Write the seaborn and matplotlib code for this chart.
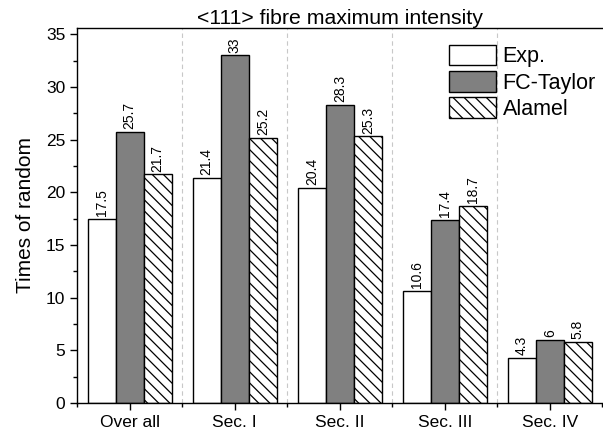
import matplotlib
matplotlib.use("Agg")
import matplotlib.pyplot as plt
from matplotlib.ticker import MultipleLocator, FixedLocator
import seaborn as sns
import pandas as pd

# Data
sections = ["Over all", "Sec. I", "Sec. II", "Sec. III", "Sec. IV"]
series_names = ["Exp.", "FC-Taylor", "Alamel"]
exp_vals = [17.5, 21.4, 20.4, 10.6, 4.3]
fc_taylor_vals = [25.7, 33, 28.3, 17.4, 6]
alamel_vals = [21.7, 25.2, 25.3, 18.7, 5.8]

df = pd.DataFrame({
    "section": sections * 3,
    "model": [s for s in series_names for _ in sections],
    "value": exp_vals + fc_taylor_vals + alamel_vals,
})

sns.set_style("ticks")
plt.rcParams["font.family"] = ["Liberation Sans", "DejaVu Sans"]
plt.rcParams["hatch.linewidth"] = 0.9
plt.rcParams["text.color"] = "black"
plt.rcParams["axes.labelcolor"] = "black"
plt.rcParams["xtick.color"] = "black"
plt.rcParams["ytick.color"] = "black"

fig, ax = plt.subplots(figsize=(6.03, 4.37), dpi=100)
fig.subplots_adjust(left=0.128, right=0.999, bottom=0.078, top=0.936)

sns.barplot(data=df, x="section", y="value", hue="model", order=sections,
            hue_order=series_names, palette=["white", "#808080", "white"],
            edgecolor="black", linewidth=1.0, saturation=1, legend=False,
            width=0.8, ax=ax)

hatches = [None, None, "\\\\\\"]
for cont, hatch, vals in zip(ax.containers, hatches, [exp_vals, fc_taylor_vals, alamel_vals]):
    for patch in cont:
        patch.set_edgecolor("black")
        if hatch:
            patch.set_hatch(hatch)
    ax.bar_label(cont, labels=[f"{v:g}" for v in vals], rotation=90,
                 padding=2, fontsize=10)

# Dashed group separators
for xb in [0.5, 1.5, 2.5, 3.5]:
    ax.axvline(xb, color="#c8c8c8", linestyle=(0, (4, 3)), linewidth=0.8, zorder=0)

ax.set_xlim(-0.5, 4.5)
ax.set_ylim(0, 35.6)
ax.yaxis.set_major_locator(MultipleLocator(5))
ax.yaxis.set_minor_locator(MultipleLocator(2.5))
ax.xaxis.set_minor_locator(FixedLocator([-0.5, 0.5, 1.5, 2.5, 3.5, 4.5]))
ax.tick_params(axis="both", which="major", direction="out", length=5, width=1,
               labelsize=12.5, color="black", labelcolor="black")
ax.tick_params(axis="both", which="minor", direction="out", length=3, width=1,
               color="black")
ax.tick_params(axis="x", which="major", pad=4)

for sp in ax.spines.values():
    sp.set_visible(True)
    sp.set_linewidth(1.0)
    sp.set_color("black")
ax.spines["right"].set_visible(False)

ax.set_xlabel("")
ax.set_ylabel("Times of random", fontsize=15, labelpad=8)
ax.set_title("<111> fibre maximum intensity", fontsize=15.3, pad=3)

ax.legend(ax.containers, series_names, loc="upper right",
          bbox_to_anchor=(1.012, 0.99), frameon=False, fontsize=15.5,
          handlelength=2.2, handleheight=1.1, handletextpad=0.3,
          labelspacing=0.17, borderaxespad=0.2)

fig.savefig("out.png", dpi=100)
